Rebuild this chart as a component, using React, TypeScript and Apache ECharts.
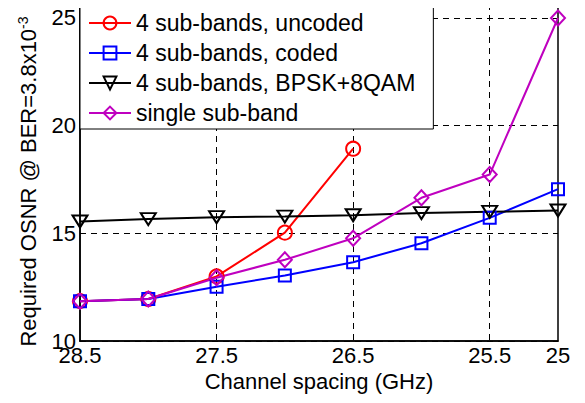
import React, { useEffect, useRef } from "react";
import * as echarts from "echarts";

const categories = ["28.5", "28", "27.5", "27", "26.5", "26", "25.5", "25"];
const uncoded = [11.85, 11.95, 13.0, 15.03, 18.93, null, null, null];
const coded = [11.85, 11.95, 12.52, 13.04, 13.66, 14.54, 15.72, 17.05];
const bpsk8qam = [15.55, 15.66, 15.75, 15.78, 15.84, 15.94, 16.0, 16.06];
const single = [11.85, 11.95, 12.94, 13.77, 14.77, 16.65, 17.73, 25.0];
const seriesNames = [
  "4 sub-bands, uncoded",
  "4 sub-bands, coded",
  "4 sub-bands, BPSK+8QAM",
  "single sub-band",
];
const labeledX = [0, 2, 4, 6, 7];
const gridX = [2, 4, 6];

const FONT = "Liberation Sans, Arial, sans-serif";

export default function App() {
  const ref = useRef<HTMLDivElement>(null);
  useEffect(() => {
    if (!ref.current) return;
    const chart = echarts.init(ref.current, undefined, { renderer: "svg" });
    const mk = (name: string, data: any[], color: string, symbol: string, size: any) => ({
      name,
      type: "line",
      data,
      symbol,
      symbolSize: size,
      connectNulls: false,
      lineStyle: { color, width: 2 },
      itemStyle: { color: "rgba(0,0,0,0)", borderColor: color, borderWidth: 2 },
      emphasis: { disabled: true },
      z: 3,
    });
    chart.setOption({
      animation: false,
      textStyle: { fontFamily: FONT },
      grid: {
        left: 80,
        right: 27,
        top: 4,
        bottom: 62,
        show: true,
        borderColor: "#000",
        borderWidth: 1.5,
        backgroundColor: "transparent",
      },
      legend: {
        orient: "vertical",
        left: 80,
        top: 4,
        padding: [4, 18, 1, 8],
        itemGap: 0,
        itemWidth: 42,
        itemHeight: 16,
        backgroundColor: "#fff",
        borderColor: "#000",
        borderWidth: 1,
        textStyle: { fontSize: 23, color: "#000", fontFamily: FONT, lineHeight: 30 },
        data: seriesNames,
      },
      xAxis: {
        type: "category",
        data: categories,
        boundaryGap: false,
        name: "Channel spacing (GHz)",
        nameLocation: "middle",
        nameGap: 27,
        nameTextStyle: { fontSize: 22, color: "#000", fontFamily: FONT },
        axisLine: { show: true, lineStyle: { color: "#000", width: 1.5 } },
        axisTick: { show: false },
        axisLabel: {
          interval: (i: number) => labeledX.includes(i),
          fontSize: 22,
          lineHeight: 16,
          color: "#000",
          margin: 6,
          fontFamily: FONT,
        },
        splitLine: {
          show: true,
          interval: (i: number) => gridX.includes(i),
          lineStyle: { color: "#000", type: [6, 5], width: 1 },
        },
      },
      yAxis: {
        type: "value",
        min: 10,
        max: 25.65,
        interval: 5,
        name: "Required OSNR @ BER=3.8x10{sup|-3}",
        nameLocation: "middle",
        nameGap: 40,
        nameTextStyle: {
          fontSize: 22,
          color: "#000",
          fontFamily: FONT,
          padding: [0, 18, 0, 0],
          rich: {
            sup: { fontSize: 14, color: "#000", fontFamily: FONT, verticalAlign: "top", padding: [0, 0, 10, 0] },
          },
        },
        axisLine: { show: true, lineStyle: { color: "#000", width: 1.5 } },
        axisTick: { show: false },
        axisLabel: {
          fontSize: 22,
          lineHeight: 14,
          color: "#000",
          margin: 4,
          fontFamily: FONT,
          formatter: (v: number) => (Math.abs(v % 5) < 1e-6 ? String(v) : ""),
        },
        splitLine: {
          show: true,
          lineStyle: { color: "#000", type: [6, 5], width: 1 },
        },
      },
      series: [
        mk(seriesNames[0], uncoded, "#ff0000", "circle", 14),
        mk(seriesNames[1], coded, "#0000ff", "rect", 12),
        mk(seriesNames[2], bpsk8qam, "#000000", "path://M0,0 L10,0 L5,8 Z", [15, 12]),
        mk(seriesNames[3], single, "#bf00bf", "diamond", [14, 15]),
      ],
    });
    return () => chart.dispose();
  }, []);
  return <div ref={ref} style={{ width: 585, height: 403, margin: -8 }} />;
}
